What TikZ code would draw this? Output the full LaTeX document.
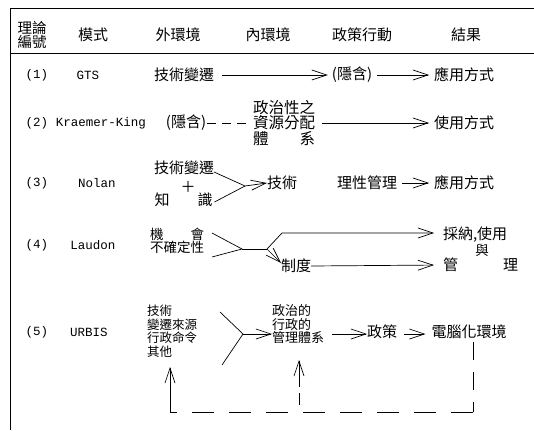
\documentclass[tikz,border=0pt]{standalone}
\usepackage{fontspec}
\setmainfont{Liberation Mono}
\newfontfamily\cjk{Noto Sans CJK TC}
\usetikzlibrary{arrows.meta}
\begin{document}
\begin{tikzpicture}[x=1pt,y=-1pt,
  every node/.style={inner sep=0pt, outer sep=0pt},
  zh/.style={font=\cjk\fontsize{15}{14}\selectfont},
  zhm/.style={font=\cjk\fontsize{13.5}{12}\selectfont},
  zhs/.style={font=\cjk\fontsize{12.5}{13.5}\selectfont},
  lat/.style={font=\fontsize{12.5}{14}\selectfont},
  ln/.style={line width=0.7pt},
  arr/.style={ln, -{Straight Barb[length=15pt,width=10pt,line width=0.7pt]}},
  dsh/.style={ln, dash pattern=on 9pt off 6pt}
]
\useasboundingbox (0,0) rectangle (534,430);
% frame
\draw[ln] (534,8) -- (10,8) -- (10,430);
\draw[ln] (10,53) -- (534,53);
% header
\node[zh, align=center, font=\cjk\fontsize{14.5}{13.5}\selectfont] (h1) at (32,35) {理論\\編號};
\node[zh] (h2) at (93,35) {模式};
\node[zh] (h3) at (178,35) {外環境};
\node[zh] (h4) at (268,35) {內環境};
\node[zh] (h5) at (362,35) {政策行動};
\node[zh] (h6) at (466,35) {結果};
% row 1
\node[lat] (n1) at (37,75) {(1)};
\node[lat] (m1) at (88,75) {GTS};
\node[zh] (a1) at (184,75) {技術變遷};
\node[zh] (b1) at (352,75) {(隱含)};
\node[zh] (r1) at (464,75) {應用方式};
\draw[arr, shorten <=8pt, shorten >=4pt] (a1.east) -- (b1.west);
\draw[arr, shorten <=5pt, shorten >=5pt] (b1.east) -- (r1.west);
% row 2
\node[lat] (n2) at (37,123) {(2)};
\node[lat] (m2) at (101,123) {Kraemer-King};
\node[zh] (a2) at (186,123) {(隱含)};
\node[zh, align=left, font=\cjk\fontsize{15.5}{13.5}\selectfont] (c2) at (284,123) {政治性之\\資源分配\\體\hspace{2em}系};
\node[zh] (r2) at (464,123) {使用方式};
\draw[dsh, shorten <=1pt, shorten >=4pt] (a2.east) -- (c2.west);
\draw[arr, shorten <=7pt, shorten >=5pt] (c2.east) -- (r2.west);
% row 3
\node[lat] (n3) at (37,183) {(3)};
\node[lat] (m3) at (97,183) {Nolan};
\node[zh] (a3) at (184,168) {技術變遷};
\node[zh] (k3) at (162,200) {知};
\node[zh] (pl3) at (188,187) {＋};
\node[zh] (s3) at (205,200) {識};
\coordinate (p3) at (245,186);
\node[zh] (t3) at (282,183) {技術};
\node[zh] (g3) at (367,183) {理性管理};
\node[zh] (r3) at (464,183) {應用方式};
\draw[ln] ([yshift=-4pt]a3.east) -- (p3);
\draw[ln] ([xshift=2pt,yshift=-2pt]s3.east) -- (p3);
\draw[arr] (p3) -- (t3.west);
\draw[arr, shorten <=5pt, shorten >=5pt] (g3.east) -- (r3.west);
% row 4
\node[lat] (n4) at (37,245) {(4)};
\node[lat] (m4) at (93,245) {Laudon};
\node[zhm, align=left] (a4) at (177,241) {機\hspace{2em}會\\不確定性};
\coordinate (u4) at (212,233);
\coordinate (l4) at (212,257);
\coordinate (p4a) at (242,249);
\coordinate (p4b) at (267,249);
\coordinate (p4c) at (282,233);
\node[zh] (d4) at (296,266) {制度};
\node[zh, anchor=west] (r4a) at (443,235) {採納,使用};
\node[zhm] (r4b) at (482,250) {與};
\node[zh, anchor=west] (r4c) at (443,265) {管\hspace{3em}理};
\draw[ln] (u4) -- (p4a) -- (l4);
\draw[ln] (p4a) -- (p4b);
\draw[arr] (p4b) -- (p4c) -- ([xshift=-9pt]r4a.west |- p4c);
\draw[arr] (p4b) -- ([yshift=3pt]d4.west);
\draw[arr, shorten >=9pt] (d4.east) -- (r4c.west);
% row 5
\node[lat] (n5) at (37,332) {(5)};
\node[lat] (m5) at (89,332) {URBIS};
\node[zhs, align=left, anchor=north west] (a5) at (147,305) {技術\\變遷來源\\行政命令\\其他};
\coordinate (u5) at (220,312);
\coordinate (l5) at (222,365);
\coordinate (p5) at (243,334);
\node[zhs, align=left, anchor=north west, font=\cjk\fontsize{13}{13.5}\selectfont] (c5) at (272,305) {政治的\\行政的\\管理體系};
\node[zh] (po5) at (382,332) {政策};
\node[zh] (e5) at (469,332) {電腦化環境};
\draw[ln] (u5) -- (p5) -- (l5);
\draw[arr] (p5) -- (p5 -| c5.west);
\draw[arr, shorten <=8pt] (c5.east |- p5) -- (po5.west |- p5);
\draw[arr, shorten <=7pt, shorten >=6pt] (po5.east |- p5) -- (e5.west |- p5);
% feedback loop
\coordinate (k1) at (473,412);
\coordinate (k2) at (170,412);
\coordinate (k3) at (299,405);
\coordinate (k4) at (299,360);
\coordinate (k5) at (170,367);
\draw[ln, dash pattern=on 18pt off 12pt] ([yshift=-3pt]e5.south -| k1) -- (k1);
\draw[ln, dash pattern=on 22pt off 15pt] (k1) -- (k2);
\draw[arr] (k2) -- (k5);
\draw[arr, dash pattern=on 12pt off 6pt on 40pt] (k3) -- (k4);
\end{tikzpicture}
\end{document}
